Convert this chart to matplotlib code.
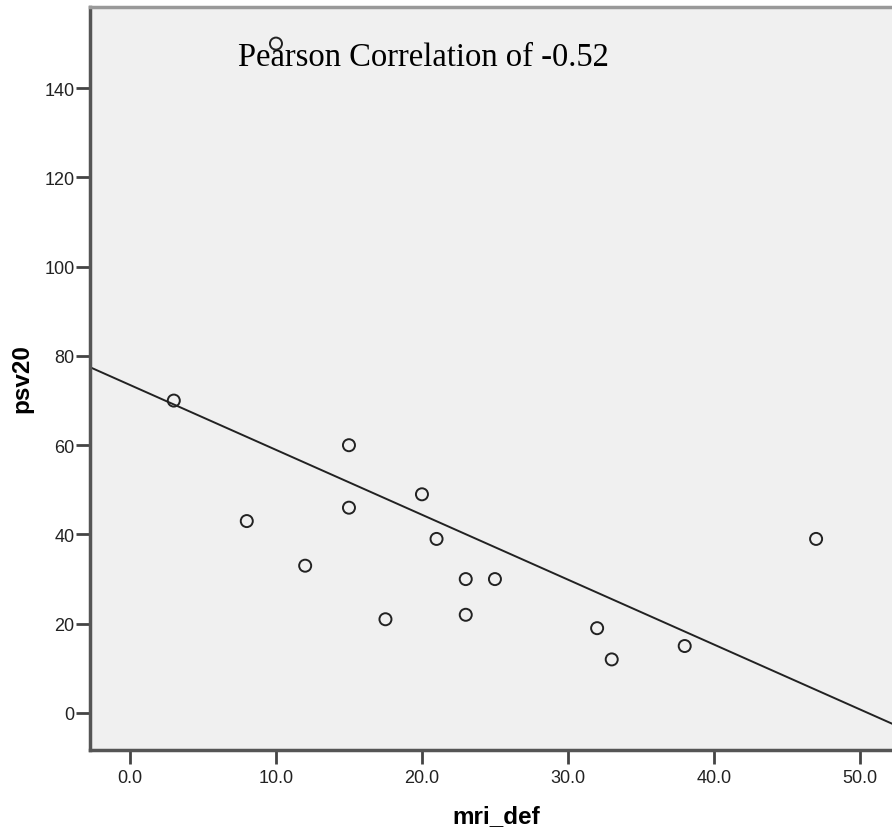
import matplotlib.pyplot as plt
import numpy as np

# data
mri_def = [3, 8, 10, 12, 15, 15, 17.5, 20, 21, 23, 23, 25, 32, 33, 38, 47]
psv20 = [70, 43, 150, 33, 60, 46, 21, 49, 39, 30, 22, 30, 19, 12, 15, 39]
x_ticks = [0, 10, 20, 30, 40, 50]
y_ticks = [0, 20, 40, 60, 80, 100, 120, 140]

fig = plt.figure(figsize=(8.92, 8.29), dpi=100)
ax = fig.add_axes([90 / 892, 78 / 829, 802 / 892, 743 / 829])
ax.set_facecolor('#f0f0f0')

ax.scatter(mri_def, psv20, s=75, facecolors='none', edgecolors='#222222', linewidths=1.4, zorder=3)

# least squares fit line
slope, intercept = np.polyfit(mri_def, psv20, 1)
xlim = (-2.74, 52.2)
xs = np.array(xlim)
ax.plot(xs, slope * xs + intercept, color='#222222', lw=1.4, zorder=2)

ax.set_xlim(xlim)
ax.set_ylim(-8.3, 158.2)
ax.set_xticks(x_ticks)
ax.set_xticklabels([f'{t:.1f}' for t in x_ticks])
ax.set_yticks(y_ticks)

ax.tick_params(direction='out', length=10, width=2, color='#444444', labelsize=13,
               labelcolor='#222222')
ax.tick_params(axis='x', pad=4)
ax.tick_params(axis='y', pad=1)
for lbl in ax.get_xticklabels() + ax.get_yticklabels():
    lbl.set_family('Liberation Sans')

for side in ['left', 'bottom']:
    ax.spines[side].set_color('#555555')
    ax.spines[side].set_linewidth(2.5)
ax.spines['top'].set_color('#999999')
ax.spines['top'].set_linewidth(2.5)
ax.spines['right'].set_visible(False)

ax.set_xlabel('mri_def', fontsize=17.5, fontweight='bold', family='Liberation Sans', va='top')
ax.set_ylabel('psv20', fontsize=17.5, fontweight='bold', family='Liberation Sans')
ax.xaxis.set_label_coords(0.507, -0.0727)
ax.yaxis.set_label_coords(-0.071, 0.5007)

ax.text(0.184, 0.922, 'Pearson Correlation of -0.52', transform=ax.transAxes,
        fontsize=23.5, family='Liberation Serif', ha='left', va='baseline', zorder=4)

fig.savefig('out.png', dpi=100)
